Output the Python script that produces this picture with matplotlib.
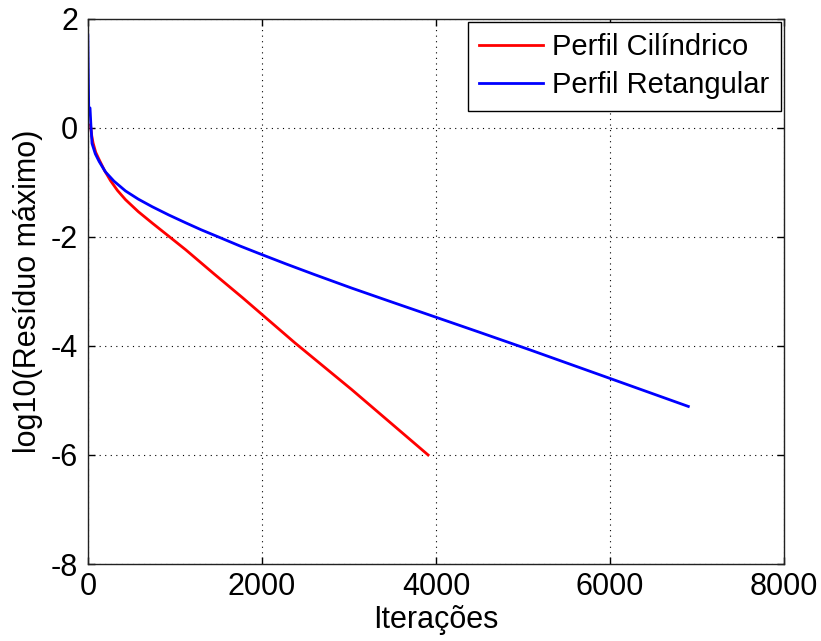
import matplotlib
matplotlib.use('Agg')
import matplotlib.pyplot as plt

plt.rcParams['font.family'] = ['Liberation Sans', 'DejaVu Sans']
plt.rcParams['axes.unicode_minus'] = False

# Curvas
iter_cil = [30, 45, 60, 90, 125, 190, 260, 340, 433, 580, 741, 930, 1126,
            1450, 1780, 2376, 3031, 3910]
res_cil = [0.05, -0.15, -0.28, -0.45, -0.57, -0.78, -0.97, -1.15, -1.32,
           -1.54, -1.75, -1.99, -2.24, -2.68, -3.12, -3.94, -4.80, -6.0]

iter_ret = [0, 5, 10, 25, 35, 48, 86, 130, 202, 300, 433, 580, 741, 930,
            1126, 1300, 1511, 1750, 1973, 2281, 2600, 3031, 3500, 3955,
            4500, 5075, 6006, 6900]
res_ret = [1.70, 1.0, 0.38, 0.36, 0.05, -0.29, -0.48, -0.62, -0.81, -0.98,
           -1.16, -1.31, -1.45, -1.60, -1.745, -1.87, -2.01, -2.17, -2.31,
           -2.50, -2.69, -2.94, -3.20, -3.45, -3.75, -4.07, -4.60, -5.11]

xticks = [0, 2000, 4000, 6000, 8000]
yticks = [-8, -6, -4, -2, 0, 2]

fig = plt.figure(figsize=(8.21, 6.41), dpi=100)
ax = fig.add_axes([0.107, 0.120, 0.848, 0.851])

ax.plot(iter_cil, res_cil, color='red', linewidth=2.0, label='Perfil Cilíndrico')
ax.plot(iter_ret, res_ret, color='blue', linewidth=2.0, label='Perfil Retangular')

ax.set_xlim(0, 8000)
ax.set_ylim(-8, 2)
ax.set_xticks(xticks)
ax.set_yticks(yticks)
ax.tick_params(direction='in', top=True, right=True, labelsize=22, length=5,
               width=1)
ax.tick_params(axis='x', pad=6)
ax.tick_params(axis='y', pad=7)
ax.grid(True, color='black', linestyle=(0, (1, 4)), linewidth=0.8)
for s in ax.spines.values():
    s.set_linewidth(1.0)
    s.set_color('#222222')

ax.set_xlabel('Iterações', fontsize=22, labelpad=2)
ax.set_ylabel('log10(Resíduo máximo)', fontsize=22, labelpad=6)

leg = ax.legend(loc='upper right', fontsize=21, fancybox=False, framealpha=1,
                edgecolor='black', borderaxespad=0.1, handlelength=2.2,
                handletextpad=0.3, labelspacing=0.35, borderpad=0.4)
leg.get_frame().set_linewidth(1.0)

fig.savefig('out.png', dpi=100)
